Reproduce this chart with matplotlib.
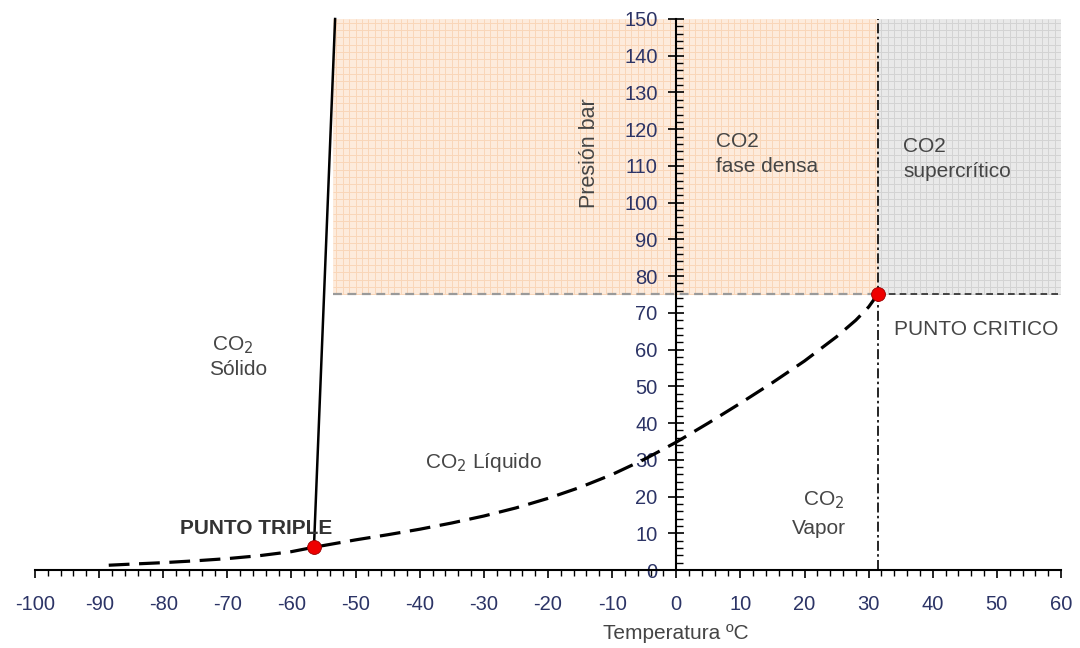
import numpy as np
import matplotlib
matplotlib.use("Agg")
import matplotlib.pyplot as plt
from matplotlib.ticker import MultipleLocator

plt.rcParams['font.family'] = ['Liberation Sans', 'DejaVu Sans']
plt.rcParams['axes.unicode_minus'] = False

# curva de vapor / sublimacion (temperatura ºC, presion bar)
temp_curve = [-88.5, -85, -80, -75, -70, -65, -60, -56.5, -50, -45, -40, -35, -30, -25,
              -20, -15, -10, -5, 0, 5, 10, 15, 20, 25, 28, 30, 31.4]
pres_curve = [1.3, 1.6, 2.0, 2.5, 3.1, 3.9, 5.0, 6.2, 8.2, 9.6, 11.1, 12.8, 14.7, 16.9,
              19.5, 22.5, 26.0, 30.1, 34.8, 40.0, 45.4, 51.0, 56.9, 63.5, 68.0, 71.6, 75.0]

# curva de fusion
temp_fusion = [-56.5, -53.2]
pres_fusion = [6.2, 150]

triple = (-56.5, 6.2)
critico = (31.4, 75.0)

fig = plt.figure(figsize=(10.8, 6.48), dpi=100)
ax = fig.add_axes([35 / 1080, 1 - 570 / 648, (1061 - 35) / 1080, (570 - 19) / 648])
ax.set_xlim(-100, 60)
ax.set_ylim(0, 150)

# zonas sombreadas con papel milimetrado
def papel(x0, x1, y0, y1, fondo, linea):
    ax.fill_between([x0, x1], y0, y1, color=fondo, lw=0, zorder=0)
    ax.vlines(np.arange(np.ceil(x0), x1, 1.0), y0, y1, color=linea, lw=0.7, zorder=0.5)
    ax.hlines(np.arange(y0, y1 + 0.1, 2.0), x0, x1, color=linea, lw=0.7, zorder=0.5)

papel(-53.5, critico[0], critico[1], 150, '#fdebdc', '#f9d6b8')
papel(critico[0], 60, critico[1], 150, '#e9e9e9', '#d3d3d3')

ax.plot(temp_curve, pres_curve, color='black', lw=2.3, dashes=(6.5, 3), zorder=3)
ax.plot(temp_fusion, pres_fusion, color='black', lw=1.8, zorder=3, clip_on=False)

ax.plot([-53.5, critico[0]], [critico[1], critico[1]], color='#9a9a9a', lw=1.6,
        dashes=(4, 2.5), zorder=2)
ax.plot([critico[0], 60], [critico[1], critico[1]], color='#2a2a2a', lw=1.2,
        dashes=(4, 2.5), zorder=2, clip_on=False)
ax.plot([critico[0], critico[0]], [0, 150], color='black', lw=1.2,
        dashes=(6, 2, 1.5, 2), zorder=2, clip_on=False)

for p in (triple, critico):
    ax.plot(*p, 'o', ms=10, color='#ee0000', mec='#990000', mew=0.6, zorder=5, clip_on=False)

# ejes centrados
ax.spines['left'].set_position(('data', 0))
ax.spines['bottom'].set_position(('data', 0))
ax.spines['top'].set_visible(False)
ax.spines['right'].set_visible(False)
for s in ('left', 'bottom'):
    ax.spines[s].set_linewidth(1.5)
    ax.spines[s].set_zorder(4)

ax.xaxis.set_major_locator(MultipleLocator(10))
ax.xaxis.set_minor_locator(MultipleLocator(2))
ax.yaxis.set_major_locator(MultipleLocator(10))
ax.yaxis.set_minor_locator(MultipleLocator(2))
ax.tick_params(axis='x', which='major', direction='out', length=6, width=1.2, pad=12,
               labelsize=14.5, labelcolor='#2c3466')
ax.tick_params(axis='x', which='minor', direction='out', length=4, width=1.0)
ax.tick_params(axis='y', which='major', direction='inout', length=11, width=1.2, pad=8,
               labelsize=14.5, labelcolor='#2c3466')
ax.tick_params(axis='y', which='minor', direction='in', length=5, width=1.0)
for t in ax.get_xticklabels() + ax.get_yticklabels():
    t.set_zorder(6)

gris = '#454545'
fs = 15
ax.text(-77.4, 11.2, 'PUNTO TRIPLE', fontsize=15, fontweight='bold', color='#333333',
        va='center', zorder=6)
ax.text(34.0, 65.4, 'PUNTO CRITICO', fontsize=fs, color=gris, va='center', zorder=6)
ax.text(-72.4, 61.3, 'CO$_2$', fontsize=fs, color=gris, va='center')
ax.text(-72.8, 54.5, 'Sólido', fontsize=fs, color=gris, va='center')
ax.text(-39.2, 29.4, 'CO$_2$ Líquido', fontsize=fs, color=gris, va='center')
ax.text(23.0, 19.0, 'CO$_2$', fontsize=fs, color=gris, va='center', ha='center')
ax.text(22.3, 11.4, 'Vapor', fontsize=fs, color=gris, va='center', ha='center')
ax.text(6.2, 116.6, 'CO2', fontsize=fs, color=gris, va='center', zorder=6)
ax.text(6.2, 109.8, 'fase densa', fontsize=fs, color=gris, va='center', zorder=6)
ax.text(35.4, 115.3, 'CO2', fontsize=fs, color=gris, va='center', zorder=6)
ax.text(35.4, 108.4, 'supercrítico', fontsize=fs, color=gris, va='center', zorder=6)
ax.text(-13.6, 113.5, 'Presión bar', fontsize=15.5, color=gris, rotation=90,
        va='center', ha='center', zorder=6)
ax.text(0, -17.3, 'Temperatura ºC', fontsize=fs, color=gris, va='center', ha='center',
        clip_on=False)

fig.savefig('out.png', dpi=100)
